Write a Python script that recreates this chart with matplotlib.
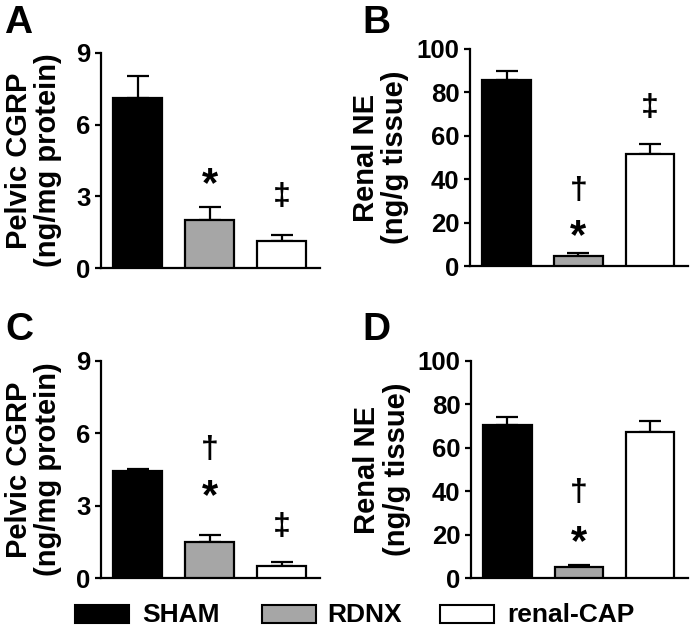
import matplotlib
matplotlib.use('Agg')
import matplotlib.pyplot as plt
from matplotlib.patches import Rectangle

plt.rcParams['font.family'] = ['Liberation Sans', 'DejaVu Sans']
plt.rcParams['font.weight'] = 'bold'
plt.rcParams['axes.labelweight'] = 'bold'

groups = ['SHAM', 'RDNX', 'renal-CAP']
colors = ['black', '#a6a6a6', 'white']

# Panel A: pelvic CGRP
a_mean = [7.10, 2.00, 1.13]
a_err = [0.95, 0.55, 0.25]
# Panel B: renal NE
b_mean = [85.7, 4.7, 51.5]
b_err = [4.2, 1.4, 4.7]
# Panel C: pelvic CGRP
c_mean = [4.44, 1.51, 0.51]
c_err = [0.10, 0.27, 0.14]
# Panel D: renal NE
d_mean = [70.5, 5.2, 67.4]
d_err = [3.5, 0.8, 5.1]

cgrp_ticks = [0, 3, 6, 9]
ne_ticks = [0, 20, 40, 60, 80, 100]

# significance symbols: (symbol, bar index, y of glyph centre)
a_sig = [('*', 1, 3.87), ('‡', 2, 2.97)]
b_sig = [('‡', 2, 72.6), ('†', 1, 34.6), ('*', 1, 17.7)]
c_sig = [('†', 1, 5.32), ('*', 1, 3.77), ('‡', 2, 2.10)]
d_sig = [('†', 1, 39.0), ('*', 1, 20.6)]

W, H = 690, 626
fig = plt.figure(figsize=(W / 100, H / 100), dpi=100)


def px_axes(l, t, r, b):
    return fig.add_axes([l / W, 1 - b / H, (r - l) / W, (b - t) / H])


# vertical glyph-centre corrections (points) for va='center'
sym_dy = {'*': -7.0, '†': 0.0, '‡': 0.0}
sym_fs = {'*': 30, '†': 23, '‡': 23}


def panel(box, means, errs, ticks, ylabel, sigs, label_x):
    ax = px_axes(*box)
    x = list(range(len(means)))
    ax.errorbar(x, means, yerr=[[0] * len(errs), errs], fmt='none',
                ecolor='black', elinewidth=1.6, capsize=8, capthick=1.6,
                zorder=2)
    ax.bar(x, means, width=0.68, color=colors, edgecolor='black',
           linewidth=1.6, zorder=3)
    ax.set_xlim(-0.51, 2.53)
    ax.set_ylim(ticks[0], ticks[-1])
    ax.set_yticks(ticks)
    ax.set_yticklabels([str(t) for t in ticks], fontweight='bold',
                       fontsize=18.5)
    ax.set_xticks([])
    for s in ['top', 'right']:
        ax.spines[s].set_visible(False)
    for s in ['left', 'bottom']:
        ax.spines[s].set_linewidth(1.6)
    ax.tick_params(axis='y', length=4.5, width=1.6, pad=3)
    ax.set_ylabel(ylabel, fontsize=21, fontweight='bold', va='center',
                  linespacing=1.05)
    ax.yaxis.set_label_coords(label_x, 0.5)
    for sym, i, yc in sigs:
        ax.annotate(sym, xy=(i, yc), xytext=(0, sym_dy[sym]),
                    textcoords='offset points', ha='center', va='center',
                    fontsize=sym_fs[sym], fontweight='bold', zorder=4)
    return ax


axA = panel((101, 53, 320, 268), a_mean, a_err, cgrp_ticks,
            'Pelvic CGRP\n(ng/mg protein)', a_sig, -0.31)
axB = panel((470, 49, 688, 266), b_mean, b_err, ne_ticks,
            'Renal NE\n(ng/g tissue)', b_sig, -0.41)
axC = panel((101, 361, 320, 578), c_mean, c_err, cgrp_ticks,
            'Pelvic CGRP\n(ng/mg protein)', c_sig, -0.31)
axD = panel((471, 361, 688, 578), d_mean, d_err, ne_ticks,
            'Renal NE\n(ng/g tissue)', d_sig, -0.41)

# panel letters (left, baseline in px)
for letter, lx, by in [('A', 4, 33), ('B', 362, 33), ('C', 5, 340), ('D', 362, 340)]:
    fig.text(lx / W, 1 - by / H, letter, fontsize=28, fontweight='bold',
             ha='left', va='baseline')

# legend
leg_patch_x = [75, 262, 440]
leg_text_x = [142, 327, 507]
for g, c, px, tx in zip(groups, colors, leg_patch_x, leg_text_x):
    fig.add_artist(Rectangle((px / W, 1 - 623 / H), 54 / W, 18 / H,
                             transform=fig.transFigure, facecolor=c,
                             edgecolor='black', linewidth=1.5))
    fig.text(tx / W, 1 - 622 / H, g, fontsize=19, fontweight='bold',
             ha='left', va='baseline')

fig.savefig('out.png', dpi=100)
